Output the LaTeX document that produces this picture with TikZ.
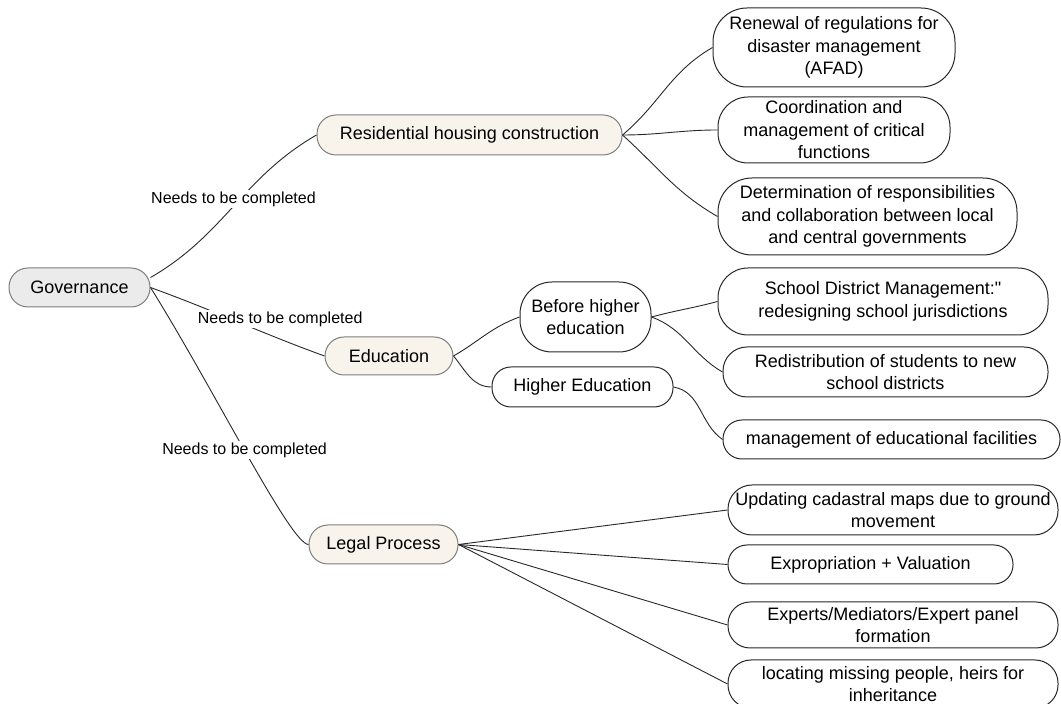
\documentclass[tikz,border=0pt]{standalone}
\usepackage{fontspec}
\setmainfont{Liberation Sans}
\usepackage{tikz}
\definecolor{rootgray}{RGB}{235, 235, 235}
\definecolor{branchcream}{RGB}{248, 244, 235}
\definecolor{branchline}{RGB}{125, 125, 125}
\definecolor{leafline}{RGB}{40, 40, 40}
\newcommand{\boxfont}{\fontsize{18}{22.5}\selectfont}
\newcommand{\tagfont}{\fontsize{16}{19}\selectfont}

\begin{document}
\begin{tikzpicture}[x=1pt, y=1pt,
    branch/.style={draw=branchline, fill=branchcream, line width=1pt, rounded corners=19, inner sep=0pt, align=center, font=\boxfont},
    root/.style={branch, fill=rootgray},
    leaf/.style={draw=leafline, fill=white, line width=1pt, rounded corners=19, inner sep=0pt, align=center, font=\boxfont},
    link/.style={draw=leafline, line width=0.9pt},
    tag/.style={fill=white, inner sep=1.5pt, font=\tagfont}]
        \useasboundingbox (0, 0) rectangle (1061, 704);

        % Root and first level
        \node[root, minimum width=141, minimum height=39] (gov) at (79.5, 416.5) {Governance};
        \node[branch, minimum width=305, minimum height=40] (house) at (469.5, 569) {Residential housing construction};
        \node[branch, minimum width=128, minimum height=38] (edu) at (389, 348) {Education};
        \node[branch, minimum width=149, minimum height=39] (legal) at (383.5, 159.5) {Legal Process};

        % Education sub-branches
        \node[leaf, minimum width=131, minimum height=70, rounded corners=32] (before) at (585.5, 387) {Before higher\\education};
        \node[leaf, minimum width=181, minimum height=40] (higher) at (582.5, 317) {Higher Education};

        % Housing leaves
        \node[leaf, minimum width=242, minimum height=79, rounded corners=34] (afad) at (834, 656.5) {Renewal of regulations for\\disaster management\\(AFAD)};
        \node[leaf, minimum width=232, minimum height=66, rounded corners=30] (coord) at (834, 574) {Coordination and\\management of critical\\functions};
        \node[leaf, minimum width=299, minimum height=77, rounded corners=34] (duties) at (867.5, 487.5) {Determination of responsibilities\\and collaboration between local\\and central governments};

        % Education leaves
        \node[leaf, minimum width=330, minimum height=67, rounded corners=30] (district) at (883, 402.5) {School District Management:\textquotedbl\\redesigning school jurisdictions};
        \node[leaf, minimum width=325, minimum height=50, rounded corners=24] (students) at (885.5, 332) {Redistribution of students to new\\school districts};
        \node[leaf, minimum width=337, minimum height=39] (facil) at (891.5, 264.5) {management of educational facilities};

        % Legal leaves
        \node[leaf, minimum width=330, minimum height=50, rounded corners=24] (cadastre) at (893, 194) {Updating cadastral maps due to ground\\movement};
        \node[leaf, minimum width=285, minimum height=39] (valuation) at (870.5, 139.5) {Expropriation + Valuation};
        \node[leaf, minimum width=330, minimum height=46, rounded corners=22] (experts) at (893, 79) {Experts/Mediators/Expert panel\\formation};
        \node[leaf, minimum width=330, minimum height=48, rounded corners=23] (heirs) at (893, 20) {locating missing people, heirs for\\inheritance};

        % Links from the root
        \draw[link] (gov.8) to[out=30, in=210] node[tag, pos=.5, yshift=7] {Needs to be completed} (house.west);
        \draw[link] (gov.east) to[out=-20, in=160] node[tag, pos=.46, xshift=49] {Needs to be completed} (edu.west);
        \draw[link] (gov.east) to[out=-58, in=180, out looseness=1, in looseness=.15] node[tag, pos=.49] {Needs to be completed} (legal.west);

        % Housing links
        \draw[link] (house.east) to[out=40, in=210] (afad.west);
        \draw[link] (house.east) to[out=0, in=180] (coord.west);
        \draw[link] (house.east) to[out=-42, in=150] (duties.west);

        % Education links
        \draw[link] (edu.east) to[out=30, in=200] (before.west);
        \draw[link] (edu.east) to[out=-50, in=180] (higher.west);
        \draw[link] (before.east) to[out=15, in=195] (district.west);
        \draw[link] (before.east) to[out=-20, in=150] (students.west);
        \draw[link] (higher.east) to[out=-10, in=145] (facil.west);

        % Legal links
        \draw[link] (legal.east) -- (cadastre.west);
        \draw[link] (legal.east) -- (valuation.west);
        \draw[link] (legal.east) -- (experts.west);
        \draw[link] (legal.east) -- (heirs.west);
    \end{tikzpicture}
\end{document}
